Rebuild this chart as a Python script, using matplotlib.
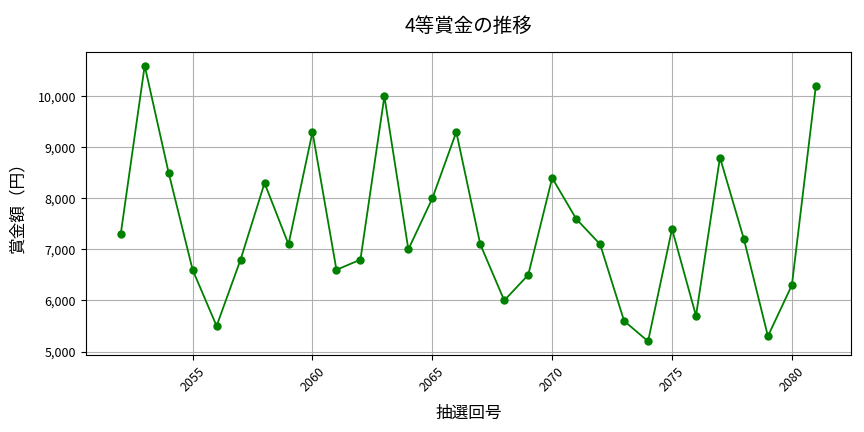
import matplotlib
matplotlib.use("Agg")
import matplotlib.pyplot as plt
from matplotlib.ticker import FuncFormatter

plt.rcParams['font.family'] = ['Noto Sans CJK JP', 'DejaVu Sans']

draws = list(range(2052, 2082))
prizes = [7300, 10600, 8500, 6600, 5500, 6800, 8300, 7100, 9300, 6600,
          6800, 10000, 7000, 8000, 9300, 7100, 6000, 6500, 8400, 7600,
          7100, 5600, 5200, 7400, 5700, 8800, 7200, 5300, 6300, 10200]

title = "4等賞金の推移"
xlabel = "抽選回号"
ylabel = "賞金額（円）"

fig = plt.figure(figsize=(8.64, 4.32), dpi=100)
ax = fig.add_axes([0.0995, 0.178, 0.885, 0.702])
ax.plot(draws, prizes, color='green', marker='o', markersize=5, linewidth=1.3)
ax.set_title(title, fontsize=14, pad=14)
ax.set_xlabel(xlabel, fontsize=12, labelpad=8)
ax.set_ylabel(ylabel, fontsize=12, labelpad=8)
ax.grid(True, color='#b0b0b0', linewidth=0.8)
ax.yaxis.set_major_formatter(FuncFormatter(lambda v, p: f"{int(v):,}"))
ax.set_xticks([2055, 2060, 2065, 2070, 2075, 2080])
ax.set_yticks([5000, 6000, 7000, 8000, 9000, 10000])
ax.set_ylim(4930, 10870)
ax.set_xlim(2050.55, 2082.45)
plt.setp(ax.get_xticklabels(), rotation=45)
ax.tick_params(labelsize=9)
fig.savefig("out.png", dpi=100)
